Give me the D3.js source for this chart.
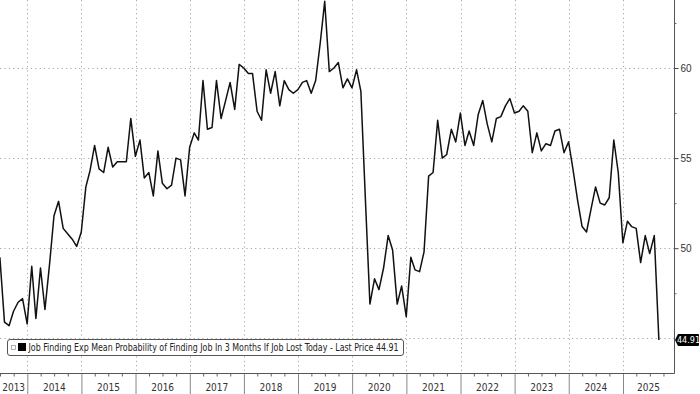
<!DOCTYPE html>
<html>
<head>
<meta charset="utf-8">
<script src="https://cdn.jsdelivr.net/npm/d3@7"></script>
<style>
  body { margin: 0; background: #fff; }
  svg { display: block; font-family: "Liberation Sans Narrow", "DejaVu Sans Condensed", "Liberation Sans", Arial, sans-serif; }
  .grid line { stroke: #a8a8a8; stroke-width: 1; stroke-dasharray: 1.2, 3.2; }
  .tick-label { font-size: 10px; fill: #333; }
</style>
</head>
<body>
<svg id="chart" width="700" height="394"></svg>
<script>
// Monthly series, first value is June 2013
const firstMonth = new Date(2013, 5, 1);
const v2013 = [49.5, 45.9, 45.7, 46.5, 47.0, 47.2, 45.8];
const v2014 = [49.0, 46.1, 48.9, 46.6, 49.1, 51.8, 52.6, 51.1, 50.8, 50.5, 50.1, 50.9];
const v2015 = [53.4, 54.3, 55.7, 54.4, 54.2, 55.6, 54.5, 54.8, 54.8, 54.8, 57.2, 55.1];
const v2016 = [56.0, 53.9, 54.2, 52.9, 55.4, 53.6, 53.3, 53.5, 55.0, 54.9, 52.9, 55.6];
const v2017 = [56.4, 56.0, 59.3, 56.6, 56.7, 59.3, 57.2, 58.2, 59.2, 57.7, 60.2, 60.0];
const v2018 = [59.7, 59.7, 57.6, 57.1, 59.9, 58.6, 59.8, 57.9, 59.3, 58.8, 58.6, 58.8];
const v2019 = [59.2, 59.3, 58.6, 59.3, 61.4, 63.7, 59.8, 60.0, 60.3, 58.9, 59.4, 58.9];
const v2020 = [59.9, 58.7, 52.6, 46.9, 48.3, 47.7, 48.9, 50.7, 49.9, 46.9, 47.9, 46.2];
const v2021 = [49.5, 48.8, 48.7, 49.8, 54.0, 54.2, 57.1, 55.0, 55.2, 56.6, 55.9, 57.5];
const v2022 = [55.7, 56.5, 55.7, 57.4, 58.2, 56.9, 55.9, 57.2, 57.3, 57.9, 58.3, 57.5];
const v2023 = [57.6, 57.9, 57.6, 55.3, 56.4, 55.4, 55.8, 55.7, 56.5, 56.6, 55.3, 55.9];
const v2024 = [54.3, 52.7, 51.2, 50.9, 52.2, 53.4, 52.5, 52.4, 52.8, 56.0, 54.2, 50.3];
const v2025 = [51.5, 51.2, 51.1, 49.2, 50.7, 49.7, 50.7, 44.91];

const yearLabels = ['2013', '2014', '2015', '2016', '2017', '2018', '2019',
  '2020', '2021', '2022', '2023', '2024', '2025'];
const yTicks = [50, 55, 60];
const yMinorTicks = [47.5, 52.5, 57.5, 62.5];
const gridValues = [45, 50, 55, 60];
const seriesName = 'Job Finding Exp Mean Probability of Finding Job In 3 Months If Job Lost Today - Last Price';

const values = [].concat(v2013, v2014, v2015, v2016, v2017, v2018, v2019,
  v2020, v2021, v2022, v2023, v2024, v2025);
// Bloomberg plots each month at its last day
const data = values.map((v, i) => ({
  date: d3.timeDay.offset(d3.timeMonth.offset(firstMonth, i + 1), -1),
  value: v,
}));
const last = data[data.length - 1];

const plotRight = 674;
const plotBottom = 373;

const svg = d3.select('#chart');

const x = d3.scaleTime()
  .domain([new Date(2014, 0, 1), new Date(2025, 0, 1)])
  .range([27.3, 623]);
const y = d3.scaleLinear()
  .domain([45, 60])
  .range([338.3, 68]);

const yearStarts = d3.range(2014, 2026).map(yr => new Date(yr, 0, 1));

// dotted grid
const grid = svg.append('g').attr('class', 'grid');
grid.selectAll('line.h')
  .data(gridValues)
  .join('line')
  .attr('class', 'h')
  .attr('x1', 0)
  .attr('x2', plotRight)
  .attr('y1', d => Math.round(y(d)) + 0.5)
  .attr('y2', d => Math.round(y(d)) + 0.5);
grid.selectAll('line.v')
  .data(yearStarts)
  .join('line')
  .attr('class', 'v')
  .attr('x1', d => Math.round(x(d)) + 0.5)
  .attr('x2', d => Math.round(x(d)) + 0.5)
  .attr('y1', 0)
  .attr('y2', plotBottom);

// series line
const lineGen = d3.line()
  .x(d => x(d.date))
  .y(d => y(d.value));

svg.append('path')
  .datum(data)
  .attr('fill', 'none')
  .attr('stroke', '#111')
  .attr('stroke-width', 1.5)
  .attr('stroke-linejoin', 'round')
  .attr('d', lineGen);

// right axis
const yAxisGroup = svg.append('g')
  .attr('transform', `translate(${plotRight + 0.5},0)`);
yAxisGroup.call(d3.axisRight(y)
  .tickValues(yTicks)
  .tickSize(4)
  .tickPadding(2)
  .tickFormat(d3.format('d')));
yAxisGroup.call(g => g.select('.domain').remove());
yAxisGroup.selectAll('.tick line').attr('stroke', '#444');
yAxisGroup.selectAll('.tick text')
  .attr('class', 'tick-label')
  .attr('font-family', null)
  .attr('font-size', null);

const yMinorGroup = svg.append('g')
  .attr('transform', `translate(${plotRight + 0.5},0)`);
yMinorGroup.call(d3.axisRight(y)
  .tickValues(yMinorTicks)
  .tickSize(2)
  .tickFormat(''));
yMinorGroup.call(g => g.select('.domain').remove());
yMinorGroup.selectAll('.tick line').attr('stroke', '#666');

svg.append('line')
  .attr('x1', plotRight + 0.5)
  .attr('x2', plotRight + 0.5)
  .attr('y1', 0)
  .attr('y2', plotBottom + 0.5)
  .attr('stroke', '#555');

// bottom axis: year separators, quarter ticks, centred year labels
const xAxisGroup = svg.append('g')
  .attr('transform', `translate(0,${plotBottom + 0.5})`);
xAxisGroup.call(d3.axisBottom(x)
  .tickValues(yearStarts)
  .tickSize(22)
  .tickFormat(''));
xAxisGroup.call(g => g.select('.domain').remove());
xAxisGroup.selectAll('.tick line').attr('stroke', '#888');

const quarterTicks = d3.timeMonth.range(new Date(2013, 6, 1), new Date(2025, 11, 1), 3)
  .filter(d => d.getMonth() !== 0);
const xMinorGroup = svg.append('g')
  .attr('transform', `translate(0,${plotBottom + 0.5})`);
xMinorGroup.call(d3.axisBottom(x)
  .tickValues(quarterTicks)
  .tickSize(3)
  .tickFormat(''));
xMinorGroup.call(g => g.select('.domain').remove());
xMinorGroup.selectAll('.tick line').attr('stroke', '#666');

svg.append('line')
  .attr('x1', 0)
  .attr('x2', plotRight + 0.5)
  .attr('y1', plotBottom + 0.5)
  .attr('y2', plotBottom + 0.5)
  .attr('stroke', '#555');

const yearBounds = [0].concat(yearStarts.map(d => x(d)), [plotRight]);
svg.append('g')
  .selectAll('text')
  .data(yearLabels)
  .join('text')
  .attr('class', 'tick-label')
  .attr('x', (d, i) => (yearBounds[i] + yearBounds[i + 1]) / 2)
  .attr('y', 391)
  .attr('text-anchor', 'middle')
  .text(d => d);

// last price marker on the right axis
const ly = Math.round(y(last.value));
const lastTag = svg.append('g').attr('transform', `translate(${plotRight},${ly})`);
lastTag.append('path')
  .attr('d', 'M1,0 L4,-6 L24,-6 Q25,-6 25,-5 L25,5 Q25,6 24,6 L4,6 Z')
  .attr('fill', '#000');
lastTag.append('text')
  .attr('x', 14.5)
  .attr('y', 3.3)
  .attr('text-anchor', 'middle')
  .attr('font-size', 9)
  .attr('fill', '#fff')
  .text(d3.format('.2f')(last.value));

// legend
const legend = svg.append('g');
legend.append('rect')
  .attr('x', 7.5)
  .attr('y', 339.5)
  .attr('width', 396)
  .attr('height', 16)
  .attr('rx', 2.5)
  .attr('fill', '#fff')
  .attr('stroke', '#555');
legend.append('rect')
  .attr('x', 11.5)
  .attr('y', 345.5)
  .attr('width', 4)
  .attr('height', 4)
  .attr('fill', 'none')
  .attr('stroke', '#999')
  .attr('stroke-width', 0.8);
legend.append('rect')
  .attr('x', 18)
  .attr('y', 343)
  .attr('width', 8)
  .attr('height', 8)
  .attr('fill', '#000');
legend.append('text')
  .attr('x', 28.5)
  .attr('y', 351)
  .attr('font-size', 10)
  .attr('fill', '#222')
  .attr('textLength', 370)
  .attr('lengthAdjust', 'spacingAndGlyphs')
  .text(`${seriesName} ${d3.format('.2f')(last.value)}`);
</script>
</body>
</html>
